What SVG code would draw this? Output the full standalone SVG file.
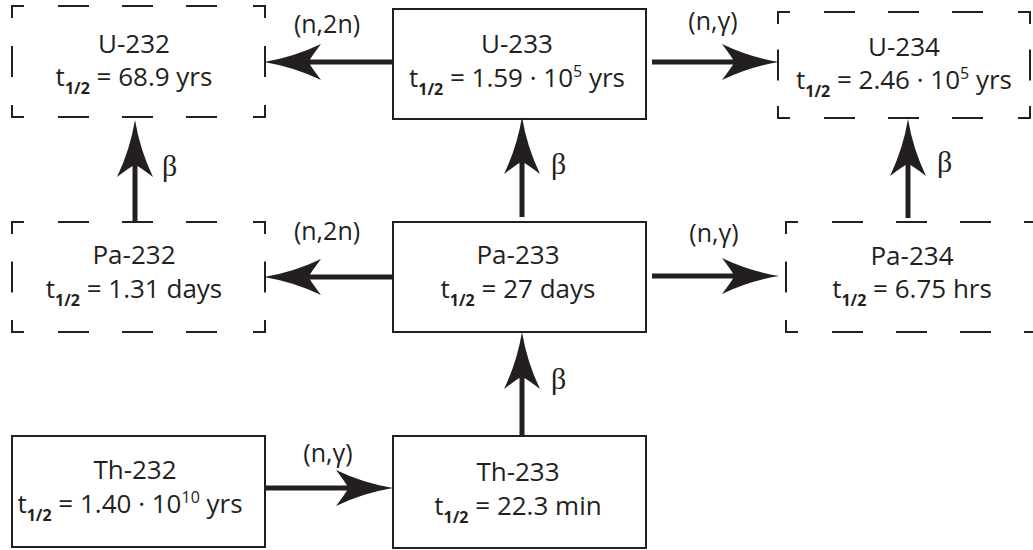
<svg xmlns="http://www.w3.org/2000/svg" width="1033" height="550" viewBox="0 0 1033 550">
  <style>
    .solid { fill: none; stroke: #231f20; stroke-width: 2; }
    .dash { fill: none; stroke: #231f20; stroke-width: 2; stroke-linecap: butt; }
    .shaft { stroke: #231f20; stroke-width: 5; fill: none; }
    .t { font-family: "Open Sans", "Noto Sans", sans-serif; font-size: 26px; fill: #231f20; text-anchor: middle; }
    .sub { font-size: 16px; font-weight: bold; }
    .sup { font-size: 16px; }
    .lbl { font-family: "Open Sans", "Noto Sans", sans-serif; font-size: 25px; fill: #231f20; text-anchor: middle; }
    .beta { font-family: "Liberation Serif", "DejaVu Serif", serif; font-size: 30px; fill: #231f20; }
  </style>
  <defs>
    <!-- barbed arrowhead; origin sits at the notch where the shaft ends -->
    <marker id="head" markerUnits="userSpaceOnUse" orient="auto" refX="0" refY="0" markerWidth="1" markerHeight="1" overflow="visible">
      <path d="M46,0 Q16,-5 -11,-18 Q-2,-6 0,-2.5 L0,2.5 Q-2,6 -11,18 Q16,5 46,0 Z" fill="#231f20"/>
    </marker>
  </defs>

  <!-- connectors -->
  <g id="connectors">
    <line class="shaft" x1="393" y1="62" x2="310" y2="62" marker-end="url(#head)"/>
    <line class="shaft" x1="652" y1="62" x2="733" y2="62" marker-end="url(#head)"/>
    <line class="shaft" x1="393" y1="277" x2="310" y2="277" marker-end="url(#head)"/>
    <line class="shaft" x1="652" y1="276" x2="733" y2="276" marker-end="url(#head)"/>
    <line class="shaft" x1="265" y1="488" x2="347" y2="488" marker-end="url(#head)"/>
    <line class="shaft" x1="522" y1="217" x2="522" y2="163" marker-end="url(#head)"/>
    <line class="shaft" x1="522" y1="436" x2="522" y2="378" marker-end="url(#head)"/>
    <line class="shaft" x1="135" y1="222" x2="135" y2="166" marker-end="url(#head)"/>
    <line class="shaft" x1="908" y1="218" x2="908" y2="165" marker-end="url(#head)"/>

    <text class="lbl" x="327" y="33">(n,2n)</text>
    <text class="lbl" x="713" y="30">(n,γ)</text>
    <text class="lbl" x="327" y="240">(n,2n)</text>
    <text class="lbl" x="714" y="242">(n,γ)</text>
    <text class="lbl" x="328" y="462">(n,γ)</text>
    <text class="beta" x="551" y="174">β</text>
    <text class="beta" x="551" y="389">β</text>
    <text class="beta" x="162" y="176">β</text>
    <text class="beta" x="937" y="172">β</text>
  </g>

  <!-- U-232 (dashed) -->
  <g id="u232">
    <path class="dash" d="M12,18 V6 H24 M58,6 H89 M122,6 H153 M186,6 H217 M253,6 H265 V18
                          M12,105 V117 H24 M58,117 H89 M122,117 H153 M186,117 H217 M253,117 H265 V105
                          M12,46 V77 M265,46 V77"/>
    <text class="t" x="134" y="53">U-232</text>
    <text class="t" x="134" y="86">t<tspan class="sub" dy="8">1/2</tspan><tspan dy="-8"> = 68.9 yrs</tspan></text>
  </g>

  <!-- U-233 -->
  <g id="u233">
    <rect class="solid" x="393" y="9" width="253" height="110"/>
    <text class="t" x="517" y="53">U-233</text>
    <text class="t" x="517" y="87">t<tspan class="sub" dy="8">1/2</tspan><tspan dy="-8"> = 1.59 · 10</tspan><tspan class="sup" dy="-10">5</tspan><tspan dy="10"> yrs</tspan></text>
  </g>

  <!-- U-234 (dashed) -->
  <g id="u234">
    <path class="dash" d="M778,24 V12 H790 M824,12 H855 M888,12 H919 M952,12 H983 M1018,12 H1030 V24
                          M778,106 V118 H790 M824,118 H855 M888,118 H919 M952,118 H983 M1018,118 H1030 V106
                          M778,49.5 V80.5 M1030,49.5 V80.5"/>
    <text class="t" x="904" y="56">U-234</text>
    <text class="t" x="904" y="89">t<tspan class="sub" dy="8">1/2</tspan><tspan dy="-8"> = 2.46 · 10</tspan><tspan class="sup" dy="-10">5</tspan><tspan dy="10"> yrs</tspan></text>
  </g>

  <!-- Pa-232 (dashed) -->
  <g id="pa232">
    <path class="dash" d="M12,234 V222 H24 M58,222 H89 M122,222 H153 M186,222 H217 M253,222 H265 V234
                          M12,320 V332 H24 M58,332 H89 M122,332 H153 M186,332 H217 M253,332 H265 V320
                          M12,261.5 V292.5 M265,261.5 V292.5"/>
    <text class="t" x="134" y="264">Pa-232</text>
    <text class="t" x="134" y="298">t<tspan class="sub" dy="8">1/2</tspan><tspan dy="-8"> = 1.31 days</tspan></text>
  </g>

  <!-- Pa-233 -->
  <g id="pa233">
    <rect class="solid" x="393" y="222" width="253" height="110"/>
    <text class="t" x="518" y="264">Pa-233</text>
    <text class="t" x="518" y="298">t<tspan class="sub" dy="8">1/2</tspan><tspan dy="-8"> = 27 days</tspan></text>
  </g>

  <!-- Pa-234 (dashed, runs past the right edge) -->
  <g id="pa234">
    <path class="dash" d="M786,234 V222 H798 M832,222 H863 M896,222 H927 M960,222 H991 M1024,222 H1039 V234
                          M786,320 V332 H798 M832,332 H863 M896,332 H927 M960,332 H991 M1024,332 H1039 V320
                          M786,261.5 V292.5 M1039,261.5 V292.5"/>
    <text class="t" x="912" y="265">Pa-234</text>
    <text class="t" x="912" y="298">t<tspan class="sub" dy="8">1/2</tspan><tspan dy="-8"> = 6.75 hrs</tspan></text>
  </g>

  <!-- Th-232 -->
  <g id="th232">
    <rect class="solid" x="12" y="436" width="253" height="111"/>
    <text class="t" x="135" y="479">Th-232</text>
    <text class="t" x="130" y="513">t<tspan class="sub" dy="8">1/2</tspan><tspan dy="-8"> = 1.40 · 10</tspan><tspan class="sup" dy="-10">10</tspan><tspan dy="10"> yrs</tspan></text>
  </g>

  <!-- Th-233 -->
  <g id="th233">
    <rect class="solid" x="393" y="436" width="253" height="112"/>
    <text class="t" x="518" y="481">Th-233</text>
    <text class="t" x="518" y="515">t<tspan class="sub" dy="8">1/2</tspan><tspan dy="-8"> = 22.3 min</tspan></text>
  </g>
</svg>
